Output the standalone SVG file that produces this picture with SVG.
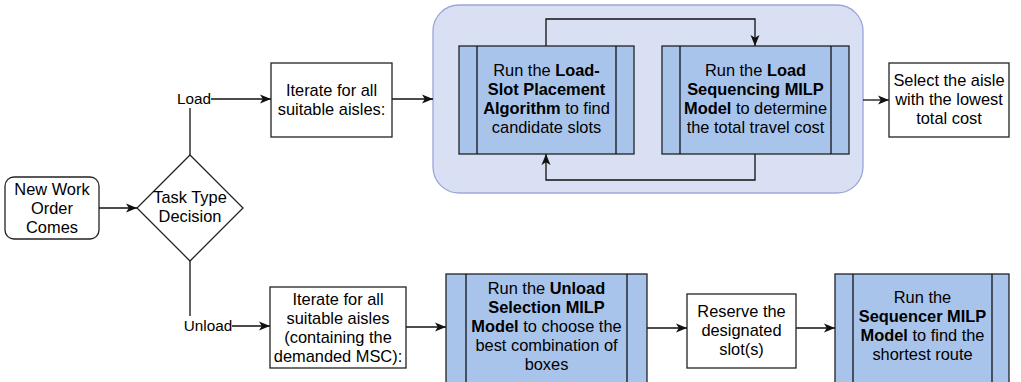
<svg xmlns="http://www.w3.org/2000/svg" width="1021" height="382" viewBox="0 0 1021 382">
  <style>
    text { font-family: "Liberation Sans", Arial, Helvetica, sans-serif; font-size: 16.4px; fill: #000; text-anchor: middle; }
    .lbl { font-size: 15.3px; }
    .b { font-weight: bold; }
    .box { fill: #fff; stroke: #222; stroke-width: 1.3; }
    .proc { fill: #A9C4EB; stroke: #222; stroke-width: 1.3; }
    .edge { fill: none; stroke: #111; stroke-width: 1.3; }
  </style>
  <defs>
    <marker id="arrow" markerUnits="userSpaceOnUse" markerWidth="12" markerHeight="10" refX="11" refY="5" orient="auto">
      <path d="M0,0.5 L11,5 L0,9.5 L2.8,5 Z" fill="#111"/>
    </marker>
  </defs>

  <rect width="1021" height="382" fill="#fff"/>

  <!-- container around the two load-side models -->
  <g id="load-group">
    <rect x="433" y="5" width="430" height="188" rx="26" ry="26" fill="#dae0f3" stroke="#9aa6da" stroke-width="1.3"/>
  </g>

  <g id="connectors">
    <line class="edge" x1="99" y1="208" x2="137" y2="208" marker-end="url(#arrow)"/>
    <polyline class="edge" points="190,155 190,108"/>
    <line class="edge" x1="211" y1="99" x2="271" y2="99" marker-end="url(#arrow)"/>
    <line class="edge" x1="392" y1="99" x2="433" y2="99" marker-end="url(#arrow)"/>
    <polyline class="edge" points="546,46 546,19 755,19 755,46" marker-end="url(#arrow)"/>
    <polyline class="edge" points="755,154 755,180 546,180 546,154" marker-end="url(#arrow)"/>
    <line class="edge" x1="863" y1="100" x2="889" y2="100" marker-end="url(#arrow)"/>
    <polyline class="edge" points="190,261 190,316"/>
    <line class="edge" x1="232" y1="326" x2="270" y2="326" marker-end="url(#arrow)"/>
    <line class="edge" x1="406" y1="327" x2="446" y2="327" marker-end="url(#arrow)"/>
    <line class="edge" x1="647" y1="328" x2="687" y2="328" marker-end="url(#arrow)"/>
    <line class="edge" x1="796" y1="328" x2="835" y2="328" marker-end="url(#arrow)"/>
  </g>

  <g id="new-work-order">
    <rect class="box" x="5" y="177" width="94" height="62" rx="9" ry="9"/>
    <text x="52" y="195">New Work</text>
    <text x="52" y="214">Order</text>
    <text x="52" y="233">Comes</text>
  </g>

  <g id="task-type-decision">
    <polygon class="box" points="190,155 243,208 190,261 137,208"/>
    <text x="190" y="203">Task Type</text>
    <text x="190" y="222">Decision</text>
  </g>

  <g id="label-load">
    <text class="lbl" x="194" y="104">Load</text>
  </g>

  <g id="label-unload">
    <text class="lbl" x="208" y="331">Unload</text>
  </g>

  <g id="iterate-load">
    <rect class="box" x="271" y="63" width="121" height="74"/>
    <text x="331.5" y="96">Iterate for all</text>
    <text x="331.5" y="115">suitable aisles:</text>
  </g>

  <g id="load-slot-placement">
    <rect class="proc" x="459" y="46" width="175" height="108"/>
    <line class="edge" x1="477" y1="46" x2="477" y2="154"/>
    <line class="edge" x1="616" y1="46" x2="616" y2="154"/>
    <text x="546.5" y="76">Run the <tspan class="b">Load-</tspan></text>
    <text x="546.5" y="95" class="b">Slot Placement</text>
    <text x="546.5" y="114"><tspan class="b">Algorithm</tspan> to find</text>
    <text x="546.5" y="133">candidate slots</text>
  </g>

  <g id="load-sequencing">
    <rect class="proc" x="662" y="46" width="187" height="108"/>
    <line class="edge" x1="680" y1="46" x2="680" y2="154"/>
    <line class="edge" x1="831" y1="46" x2="831" y2="154"/>
    <text x="755.5" y="76">Run the <tspan class="b">Load</tspan></text>
    <text x="755.5" y="95" class="b">Sequencing MILP</text>
    <text x="755.5" y="114"><tspan class="b">Model</tspan> to determine</text>
    <text x="755.5" y="133">the total travel cost</text>
  </g>

  <g id="select-aisle">
    <rect class="box" x="889" y="63" width="120" height="74"/>
    <text x="949" y="86">Select the aisle</text>
    <text x="949" y="105">with the lowest</text>
    <text x="949" y="124">total cost</text>
  </g>

  <g id="iterate-unload">
    <rect class="box" x="270" y="287" width="136" height="81"/>
    <text x="338" y="305">Iterate for all</text>
    <text x="338" y="324">suitable aisles</text>
    <text x="338" y="343">(containing the</text>
    <text x="338" y="362">demanded MSC):</text>
  </g>

  <g id="unload-selection">
    <rect class="proc" x="446" y="274" width="201" height="112"/>
    <line class="edge" x1="466" y1="274" x2="466" y2="386"/>
    <line class="edge" x1="627" y1="274" x2="627" y2="386"/>
    <text x="546.5" y="294">Run the <tspan class="b">Unload</tspan></text>
    <text x="546.5" y="313" class="b">Selection MILP</text>
    <text x="546.5" y="332"><tspan class="b">Model</tspan> to choose the</text>
    <text x="546.5" y="351">best combination of</text>
    <text x="546.5" y="370">boxes</text>
  </g>

  <g id="reserve-slots">
    <rect class="box" x="687" y="294" width="109" height="74"/>
    <text x="741.5" y="317">Reserve the</text>
    <text x="741.5" y="336">designated</text>
    <text x="741.5" y="355">slot(s)</text>
  </g>

  <g id="sequencer">
    <rect class="proc" x="835" y="274" width="174" height="112"/>
    <line class="edge" x1="853" y1="274" x2="853" y2="386"/>
    <line class="edge" x1="992" y1="274" x2="992" y2="386"/>
    <text x="922.5" y="303">Run the</text>
    <text x="922.5" y="322" class="b">Sequencer MILP</text>
    <text x="922.5" y="341"><tspan class="b">Model</tspan> to find the</text>
    <text x="922.5" y="360">shortest route</text>
  </g>
</svg>
